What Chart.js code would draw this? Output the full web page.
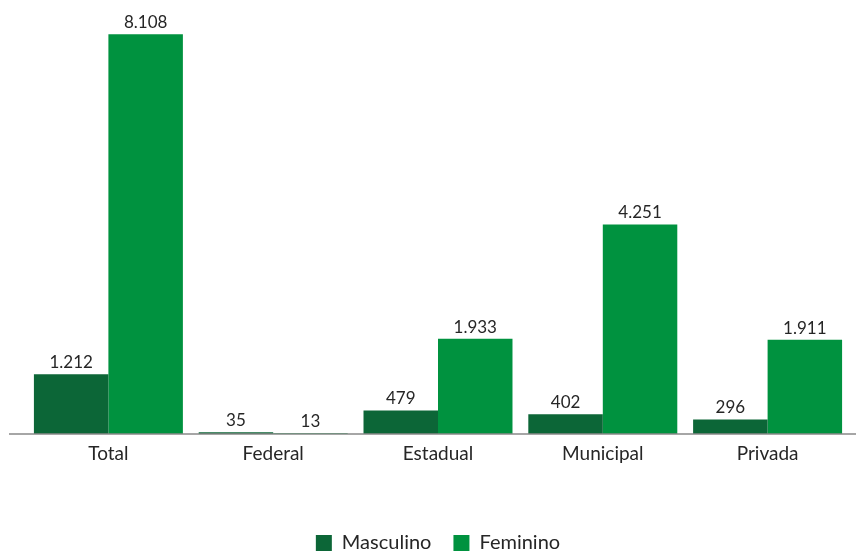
<!DOCTYPE html>
<html>
<head>
<meta charset="utf-8">
<script src="https://cdn.jsdelivr.net/npm/chart.js@4/dist/chart.umd.min.js"></script>
<style>
  html, body { margin: 0; padding: 0; background: #ffffff; }
  #wrap { width: 856px; height: 552px; position: relative; }
</style>
</head>
<body>
<div id="wrap"><canvas id="c"></canvas></div>
<script>
const categories = ["Total", "Federal", "Estadual", "Municipal", "Privada"];
const masculino = [1212, 35, 479, 402, 296];
const feminino = [8108, 13, 1933, 4251, 1911];
const seriesNames = ["Masculino", "Feminino"];
const yMax = 8500;

const FONT = "Lato, 'Open Sans', sans-serif";
const TEXT_COLOR = "#262626";

function fmt(v) {
  return String(v).replace(/\B(?=(\d{3})+(?!\d))/g, ".");
}

const baselinePlugin = {
  id: "baseline",
  afterInit(chart) {
    if (chart.legend) {
      const legend = chart.legend;
      const origFit = legend.fit.bind(legend);
      legend.fit = function () {
        origFit();
        this.height = 41;
      };
    }
  },
  afterDatasetsDraw(chart) {
    const ctx = chart.ctx;
    const y = chart.scales.y.getPixelForValue(0);
    ctx.save();
    ctx.strokeStyle = "#898989";
    ctx.lineWidth = 1.5;
    ctx.beginPath();
    ctx.moveTo(9, y);
    ctx.lineTo(chart.width, y);
    ctx.stroke();
    // value labels
    ctx.fillStyle = TEXT_COLOR;
    ctx.font = "17px " + FONT;
    ctx.textAlign = "center";
    ctx.textBaseline = "alphabetic";
    chart.data.datasets.forEach((ds, i) => {
      const meta = chart.getDatasetMeta(i);
      meta.data.forEach((el, j) => {
        ctx.fillText(fmt(ds.data[j]), el.x, el.y - 6);
      });
    });
    ctx.restore();
  }
};

new Chart(document.getElementById("c"), {
  type: "bar",
  data: {
    labels: categories,
    datasets: [
      { label: seriesNames[0], data: masculino, backgroundColor: "#0C6637", borderWidth: 0 },
      { label: seriesNames[1], data: feminino, backgroundColor: "#00923F", borderWidth: 0 }
    ]
  },
  options: {
    responsive: true,
    maintainAspectRatio: false,
    animation: false,
    layout: { padding: { left: 26, right: 6, top: 15, bottom: 0 } },
    datasets: { bar: { barPercentage: 1, categoryPercentage: 0.904 } },
    scales: {
      x: {
        grid: { display: false, drawTicks: false },
        border: { display: false },
        ticks: { color: TEXT_COLOR, font: { family: FONT, size: 19 }, padding: 8, maxRotation: 0 },
        afterFit(scale) { scale.height = 77; }
      },
      y: {
        display: false,
        min: 0,
        max: yMax
      }
    },
    plugins: {
      legend: {
        position: "bottom",
        labels: {
          color: TEXT_COLOR,
          font: { family: FONT, size: 20 },
          boxWidth: 16,
          boxHeight: 16,
          padding: 22
        }
      },
      tooltip: { enabled: false }
    }
  },
  plugins: [baselinePlugin]
});
</script>
</body>
</html>
